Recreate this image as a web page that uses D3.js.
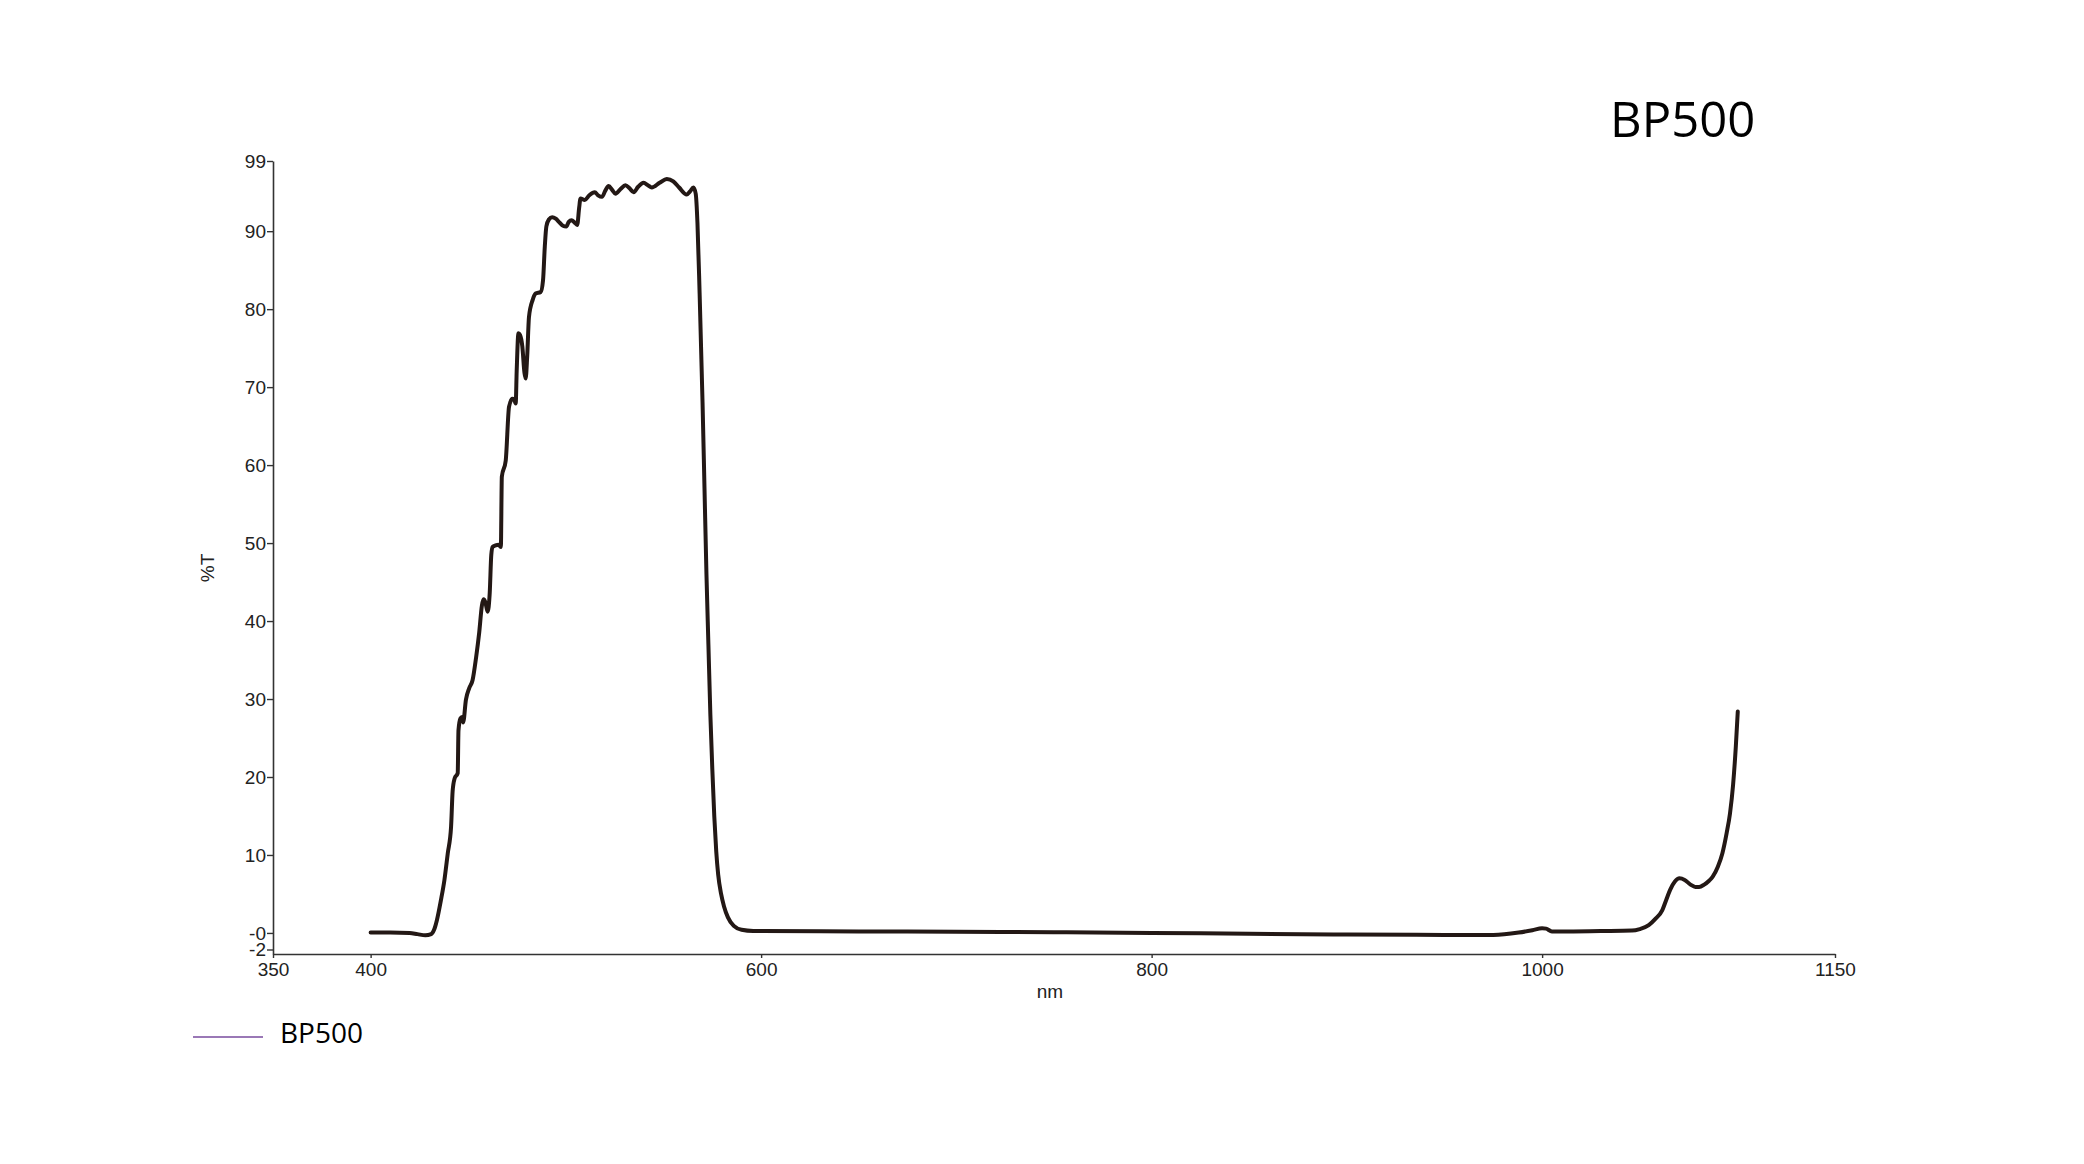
<!DOCTYPE html>
<html>
<head>
<meta charset="utf-8">
<script src="https://cdn.jsdelivr.net/npm/d3@7"></script>
<style>
  body { margin: 0; background: #fff; }
  .tick text { font-family: "Liberation Sans Narrow", "Liberation Sans", Arial, sans-serif; font-size: 19px; fill: #222; }
</style>
</head>
<body>
<div id="chart"></div>
<script>
// wavelength (nm) and transmittance (%T)
const wavelengths = [
  400, 410, 420, 424, 428, 431, 432.5, 434, 436, 437.8, 439.5, 441.2, 442, 443, 444.6, 445, 446, 446.8, 447.4,
  448.8, 450.5, 452.2, 454, 455.6, 457, 457.8, 458.8, 459.9, 461, 461.8, 462.5, 464, 465.5, 466.7, 467.2, 469.2,
  470.9, 472.6, 473.5, 474.3, 474.8, 475.7, 476.5, 477.7, 478.8, 479.4, 480.2, 481.1, 483, 484.5, 487.1, 488.3,
  489.2, 490, 491.3, 493, 494.8, 496.4, 498.5, 500.2, 501.5, 502.9, 504.5, 505.8, 506.8, 507.5, 509.7, 512,
  514.8, 516.5, 518.5, 520.2, 521.9, 523.7, 525.4, 528, 530.5, 532.6, 534.7, 537, 539.8, 542, 544, 548, 551.7,
  555, 558, 561.9, 563.6, 565.3, 566.5, 567.4, 568.5, 570, 571, 572, 573, 574, 575, 576, 577, 578, 579.5, 581,
  583, 586, 590, 596, 650, 700, 750, 800, 850, 900, 950, 975, 988, 995, 1000, 1002, 1005, 1010, 1030, 1046,
  1050, 1054.6, 1058, 1061.5, 1063.5, 1065.5, 1068, 1070.4, 1073, 1076, 1078.5, 1080.4, 1083, 1085.5, 1087.3,
  1090, 1092.3, 1094.5, 1096.2, 1097.8, 1099.2, 1100.2
];
const transmittance = [
  0.05, 0.05, 0.0, -0.15, -0.3, -0.15, 0.4, 1.7, 4.2, 6.8, 10.2, 13.6, 18.2, 19.8, 20.5, 26.0, 27.5, 27.7, 27.0,
  29.9, 31.4, 32.4, 35.3, 38.5, 42.0, 42.8, 42.4, 41.2, 43.6, 48.5, 49.5, 49.7, 49.8, 49.5, 58.5, 60.6,
  67.5, 68.5, 68.4, 67.9, 72, 76.9, 76.7, 75.2, 71.8, 71.1, 74, 79.0, 81.2, 82.0, 82.2, 83.7,
  88, 90.6, 91.5, 91.8, 91.6, 91.2, 90.7, 90.6, 91.2, 91.4, 91.1, 90.8, 93.0, 94.2, 94.0, 94.6,
  95.0, 94.6, 94.4, 95.2, 95.8, 95.3, 94.8, 95.4, 95.9, 95.5, 95.0, 95.7, 96.2, 95.9, 95.6, 96.2, 96.7,
  96.4, 95.6, 94.7, 95.1, 95.6, 94.8, 91, 82, 68, 57, 46, 37, 28, 21, 15, 10.5, 7.5, 5.0, 3.4,
  2.0, 0.9, 0.4, 0.25, 0.2, 0.15, 0.1, 0.0, -0.1, -0.2, -0.25, -0.25, 0.05, 0.35, 0.6, 0.55, 0.2, 0.2, 0.25, 0.3,
  0.5, 1.0, 1.8, 2.9, 4.2, 5.5, 6.6, 7.0, 6.8, 6.2, 5.9, 5.9, 6.2, 6.7, 7.2,
  8.5, 10.2, 12.8, 15.3, 19, 23.9, 28.4
];

const xTicks = [350, 400, 600, 800, 1000, 1150];
const yTicks = [99, 90, 80, 70, 60, 50, 40, 30, 20, 10, 0, -2];
const yTickLabels = ["99", "90", "80", "70", "60", "50", "40", "30", "20", "10", "-0", "-2"];
const seriesName = "BP500";

const width = 2084;
const height = 1164;

const svg = d3.select("#chart")
  .append("svg")
  .attr("width", width)
  .attr("height", height)
  .style("background", "#fff");

const x = d3.scaleLinear().domain([350, 1150]).range([273, 1835]);
const y = d3.scaleLinear().domain([-2.7, 99]).range([954, 161]);

// axes
const xAxis = d3.axisBottom(x)
  .tickValues(xTicks)
  .tickFormat(d3.format("d"))
  .tickSize(4)
  .tickSizeOuter(0)
  .tickPadding(5);

const yAxis = d3.axisLeft(y)
  .tickValues(yTicks)
  .tickFormat((d, i) => yTickLabels[i])
  .tickSize(6)
  .tickSizeOuter(0)
  .tickPadding(1);

const gx = svg.append("g")
  .attr("transform", `translate(0,${y.range()[0]})`)
  .call(xAxis);

const gy = svg.append("g")
  .attr("transform", `translate(${x.range()[0]},0)`)
  .call(yAxis);

[gx, gy].forEach((g) => {
  g.select(".domain").attr("stroke", "#333").attr("stroke-width", 1.6);
  g.selectAll(".tick line").attr("stroke", "#333").attr("stroke-width", 1.4);
});

// the -2 label sits almost on the axis line in the original
gy.selectAll(".tick")
  .filter((d) => d === -2)
  .attr("transform", `translate(0,${y.range()[0] - 4})`);

// axis titles
svg.append("text")
  .attr("x", 1050)
  .attr("y", 998)
  .attr("text-anchor", "middle")
  .style("font-family", "Liberation Sans Narrow, Liberation Sans, Arial, sans-serif")
  .style("font-size", "19px")
  .style("fill", "#222")
  .text("nm");

svg.append("text")
  .attr("transform", "translate(214,568) rotate(-90)")
  .attr("text-anchor", "middle")
  .style("font-family", "Liberation Sans Narrow, Liberation Sans, Arial, sans-serif")
  .style("font-size", "19px")
  .style("fill", "#222")
  .text("%T");

// curve
const points = wavelengths.map((w, i) => [w, transmittance[i]]);

const line = d3.line()
  .x((d) => x(d[0]))
  .y((d) => y(d[1]))
  .curve(d3.curveMonotoneX);

svg.append("path")
  .datum(points)
  .attr("fill", "none")
  .attr("stroke", "#231815")
  .attr("stroke-width", 4)
  .attr("stroke-linejoin", "round")
  .attr("stroke-linecap", "round")
  .attr("d", line);

// title
svg.append("text")
  .attr("x", 1610)
  .attr("y", 137)
  .style("font-family", "Open Sans, sans-serif")
  .style("font-size", "49px")
  .style("fill", "#000")
  .text(seriesName);

// legend
svg.append("line")
  .attr("x1", 193)
  .attr("x2", 263)
  .attr("y1", 1037)
  .attr("y2", 1037)
  .attr("stroke", "#9a78b6")
  .attr("stroke-width", 2);

svg.append("text")
  .attr("x", 280)
  .attr("y", 1043)
  .style("font-family", "Open Sans, sans-serif")
  .style("font-size", "28px")
  .style("fill", "#000")
  .text(seriesName);
</script>
</body>
</html>
